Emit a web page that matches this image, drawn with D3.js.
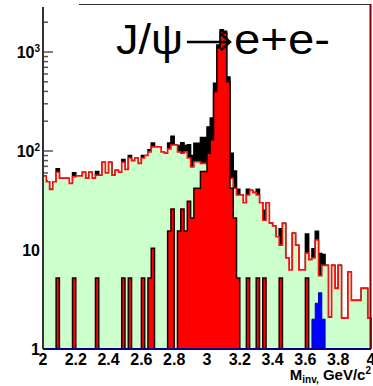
<html>
    <head>
        <title>J/psi to e+e-</title>
        <script src="https://d3js.org/d3.v7.min.js"></script>
        <style>
            body { margin: 0; background: white; }
            text { font-family: "Liberation Sans", Arial, sans-serif; }
        </style>
    </head>

    <body>
        <svg id="chart" width="373" height="386"></svg>
    </body>

    <script>

        // 100 bins of 0.02 GeV/c^2 from 2 to 4
        let binEdges = d3.range(101).map(i => 2 + i * 0.02)

        // background (green, red outline)
        let background = [
            56, 49, 41, 49, 61, 53, 53, 53, 47, 55,
            56, 56, 61, 53, 61, 53, 57, 57, 77, 60,
            77, 57, 64, 61, 77, 65, 85, 80, 85, 75,
            85, 90, 98, 110, 110, 110, 98, 95, 105, 115,
            115, 98, 95, 98, 85, 69, 78, 78, 75, 75,
            80, 85, 85, 80, 75, 70, 60, 53, 42, 36,
            36, 30, 36, 40, 38, 36, 30, 20, 30, 18.7,
            17.5, 13.6, 11.2, 18.6, 8.3, 6.3, 14.8, 11.2, 6.3, 6.3,
            9.3, 8, 8.3, 12.6, 5.5, 7, 7, 2.1, 7, 4.1,
            7, 2.05, 2.05, 6, 3.1, 3.1, 3.1, 4.1, 4.1, 2.05
        ]

        // J/psi signal (red)
        let jpsi = [
            0, 0, 0, 0, 5.2, 0, 0, 0, 0, 5.2,
            0, 0, 0, 0, 0, 0, 5.2, 0, 0, 0,
            0, 0, 0, 0, 5.2, 0, 5.2, 0, 0, 0,
            5.2, 0, 5.2, 10.4, 0, 0, 0, 0, 15.6, 26,
            0, 15.6, 26, 15.6, 31, 21, 42, 42, 62, 62,
            95, 130, 400, 1100, 1600, 1550, 500, 42, 21, 5.2,
            0, 0, 5.2, 0, 0, 5.2, 0, 5.2, 0, 0,
            0, 0, 5.2, 0, 0, 0, 0, 0, 0, 0,
            5.2, 0, 0, 0, 0, 0, 0, 0, 0, 0,
            0, 0, 0, 0, 0, 0, 0, 0, 0, 0
        ]

        // psi' signal (blue)
        let psi2s = [
            0, 0, 0, 0, 0, 0, 0, 0, 0, 0,
            0, 0, 0, 0, 0, 0, 0, 0, 0, 0,
            0, 0, 0, 0, 0, 0, 0, 0, 0, 0,
            0, 0, 0, 0, 0, 0, 0, 0, 0, 0,
            0, 0, 0, 0, 0, 0, 0, 0, 0, 0,
            0, 0, 0, 0, 0, 0, 0, 0, 0, 0,
            0, 0, 0, 0, 0, 0, 0, 0, 0, 0,
            0, 0, 0, 0, 0, 0, 0, 0, 0, 0,
            0, 0, 2.0, 2.9, 3.7, 2.0, 0, 0, 0, 0,
            0, 0, 0, 0, 0, 0, 0, 0, 0, 0
        ]

        let xTicks = [2, 2.2, 2.4, 2.6, 2.8, 3, 3.2, 3.4, 3.6, 3.8, 4]
        let yTicks = [1, 10, 100, 1000]
        let yLabels = [["1", ""], ["10", ""], ["10", "2"], ["10", "3"]]

        let svg = d3.select("#chart")

        let x = d3.scaleLinear().domain([2, 4]).range([43, 371])
        let y = d3.scaleLog().domain([1, 2850]).range([349, 7]).clamp(true)

        // sum of everything, drawn black underneath
        let total = background.map((d, i) => d + jpsi[i] + psi2s[i])

        function stepPath(values){
            let pts = [[x(binEdges[0]), y(1)]]
            values.forEach((v, i) => {
                let yy = v > 0 ? y(v) : y(1)
                pts.push([x(binEdges[i]), yy])
                pts.push([x(binEdges[i + 1]), yy])
            })
            pts.push([x(binEdges[values.length]), y(1)])
            return d3.line()(pts)
        }

        // y ticks (minor and major)
        let minor = []
        for (let dec = 1; dec <= 1000; dec *= 10){
            for (let k = 1; k <= 9; k++){
                let v = dec * k
                if (v <= 2850) minor.push(v)
            }
        }
        svg.append("g")
            .selectAll("line")
            .data(minor)
            .enter()
            .append("line")
            .attr("x1", 43)
            .attr("x2", d => yTicks.includes(d) ? 53 : 48)
            .attr("y1", d => y(d))
            .attr("y2", d => y(d))
            .attr("stroke", "#555")
            .attr("stroke-width", 1.5)

        svg.append("path")
            .attr("d", stepPath(total))
            .attr("fill", "black")
            .attr("stroke", "black")
            .attr("stroke-width", 1.5)

        svg.append("path")
            .attr("d", stepPath(background))
            .attr("fill", "#ccffcc")
            .attr("stroke", "#ff1010")
            .attr("stroke-width", 1.6)

        svg.append("path")
            .attr("d", stepPath(jpsi))
            .attr("fill", "#ff0000")
            .attr("stroke", "#1a0000")
            .attr("stroke-width", 1.5)

        svg.append("path")
            .attr("d", stepPath(psi2s))
            .attr("fill", "#0000ff")
            .attr("stroke", "#0000b0")
            .attr("stroke-width", 1)

        // frame
        svg.append("line")
            .attr("x1", 79).attr("x2", 371).attr("y1", 4.5).attr("y2", 4.5)
            .attr("stroke", "#333").attr("stroke-width", 1.2)
        svg.append("line")
            .attr("x1", 370.5).attr("x2", 370.5).attr("y1", 4).attr("y2", 349)
            .attr("stroke", "#800000").attr("stroke-width", 2)
        svg.append("line")
            .attr("x1", 43).attr("x2", 43).attr("y1", 7).attr("y2", 349)
            .attr("stroke", "#333").attr("stroke-width", 2)
        svg.append("line")
            .attr("x1", 43).attr("x2", 371).attr("y1", 349).attr("y2", 349)
            .attr("stroke", "#000080").attr("stroke-width", 2)

        // y labels
        let yl = svg.append("g")
            .selectAll("text")
            .data(yTicks)
            .enter()
            .append("text")
            .attr("x", 40)
            .attr("y", d => y(d) + 6)
            .attr("text-anchor", "end")
            .attr("font-weight", "bold")
            .attr("font-size", 16)
        yl.append("tspan").text((d, i) => yLabels[i][0])
        yl.append("tspan")
            .attr("dy", -6)
            .attr("font-size", 10)
            .text((d, i) => yLabels[i][1])

        // x labels
        svg.append("g")
            .selectAll("text")
            .data(xTicks)
            .enter()
            .append("text")
            .attr("x", d => x(d))
            .attr("y", 365)
            .attr("text-anchor", "middle")
            .attr("font-weight", "bold")
            .attr("font-size", 16)
            .text(d => d3.format("~g")(d))

        // axis title
        let xt = svg.append("text")
            .attr("x", 371)
            .attr("y", 380)
            .attr("text-anchor", "end")
            .attr("font-weight", "bold")
            .attr("font-size", 15)
        xt.append("tspan").text("M")
        xt.append("tspan").attr("font-size", 10).attr("dy", 3).text("inv,")
        xt.append("tspan").attr("dy", -3).text(" GeV/c")
        xt.append("tspan").attr("font-size", 10).attr("dy", -6).text("2")

        // title: J/psi -> e+e-
        svg.append("text")
            .attr("x", 116)
            .attr("y", 54)
            .attr("font-size", 42)
            .attr("textLength", 67)
            .attr("lengthAdjust", "spacingAndGlyphs")
            .text("J/ψ")
        svg.append("line")
            .attr("x1", 187).attr("x2", 230).attr("y1", 42).attr("y2", 42)
            .attr("stroke", "black").attr("stroke-width", 2.5)
        svg.append("path")
            .attr("d", "M221,34 L230,42 L221,50")
            .attr("fill", "none")
            .attr("stroke", "black")
            .attr("stroke-width", 2.5)
        svg.append("text")
            .attr("x", 234)
            .attr("y", 54)
            .attr("font-size", 42)
            .attr("textLength", 96)
            .attr("lengthAdjust", "spacingAndGlyphs")
            .text("e+e-")

    </script>

</html>
